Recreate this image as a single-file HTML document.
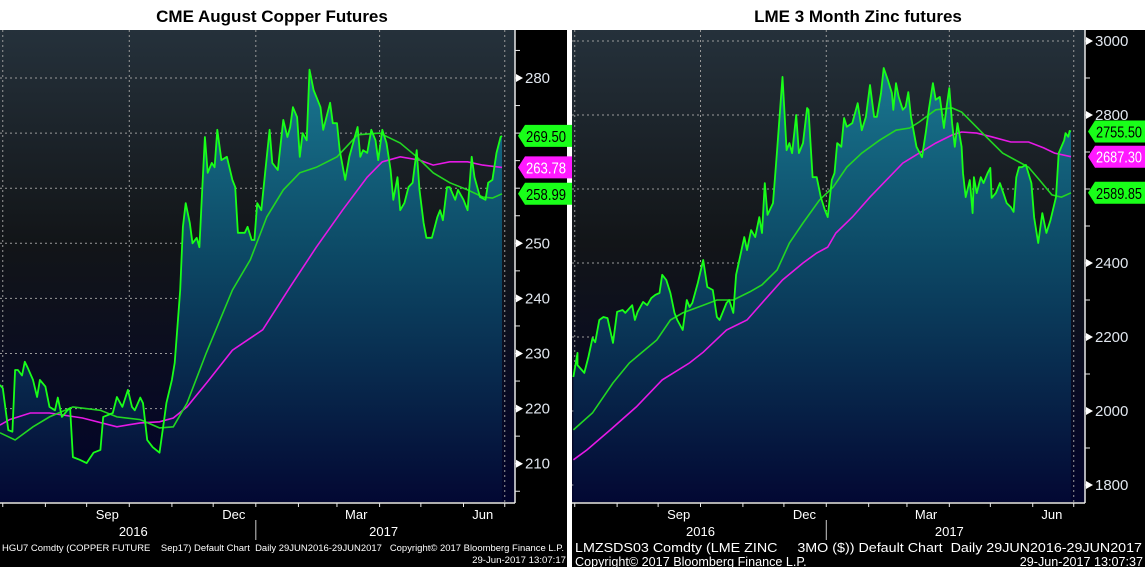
<!DOCTYPE html>
<html><head><meta charset="utf-8">
<style>
html,body{margin:0;padding:0;background:#000;width:1145px;height:567px;overflow:hidden}
svg{display:block}
text{font-family:"Liberation Sans",sans-serif}
</style></head>
<body>
<svg id="root" width="1145" height="567" viewBox="0 0 1145 567" xmlns="http://www.w3.org/2000/svg">
<defs>
<linearGradient id="bg" x1="0" y1="30" x2="0" y2="502" gradientUnits="userSpaceOnUse">
<stop offset="0" stop-color="#25313b"/><stop offset="0.45" stop-color="#121518"/><stop offset="1" stop-color="#01032a"/>
</linearGradient>
<linearGradient id="area" x1="0" y1="30" x2="0" y2="502" gradientUnits="userSpaceOnUse">
<stop offset="0" stop-color="#1c8099"/><stop offset="0.45" stop-color="#0d4c68"/><stop offset="1" stop-color="#030833"/>
</linearGradient>
</defs>
<rect x="0" y="0" width="1145" height="30" fill="#fff"/>
<rect x="567" y="0" width="5" height="567" fill="#fff"/>
<text x="272" y="22" text-anchor="middle" font-size="17" font-weight="bold" fill="#000">CME August Copper Futures</text>
<text x="858" y="22" text-anchor="middle" font-size="17" font-weight="bold" fill="#000">LME 3 Month Zinc futures</text>
<g id="left"></g>
<g id="right"></g>
<text x="2" y="551" font-size="9.6" fill="#fff" textLength="562" lengthAdjust="spacingAndGlyphs" xml:space="preserve">HGU7 Comdty (COPPER FUTURE    Sep17) Default Chart  Daily 29JUN2016-29JUN2017   Copyright© 2017 Bloomberg Finance L.P.</text>
<text x="566" y="563" text-anchor="end" font-size="9.6" fill="#fff">29-Jun-2017 13:07:17</text>
<text x="575" y="552" font-size="12.6" fill="#fff" textLength="567" lengthAdjust="spacingAndGlyphs" xml:space="preserve">LMZSDS03 Comdty (LME ZINC     3MO ($)) Default Chart  Daily 29JUN2016-29JUN2017</text>
<text x="575" y="566" font-size="12.6" fill="#fff">Copyright© 2017 Bloomberg Finance L.P.</text>
<text x="1143" y="566" text-anchor="end" font-size="12.6" fill="#fff">29-Jun-2017 13:07:37</text>
</svg>
<script>
// ---- Copper data (day offset from 29 Jun 2016) ----
const cuDays = [0,2,6,9,11,13,16,18,20,24,27,29,33,36,40,42,45,49,51,53,58,63,68,73,75,82,85,89,93,96,98,102,104,107,111,116,119,121,125,127,131,133,135,138,140,143,145,147,149,151,154,156,158,161,165,169,171,173,178,180,183,185,187,190,193,196,198,202,206,209,211,213,216,218,220,223,225,228,230,233,235,240,242,245,247,251,254,260,262,264,267,270,273,275,278,281,284,286,289,291,294,297,300,303,305,308,310,314,318,320,322,325,327,331,333,337,340,343,345,349,353,355,358,361,364,365];
const cuPrice = [224.3,223.7,216.1,215.8,227,227,226,228.5,227.5,225.2,222.1,225.2,224,220.3,219.7,222,218.5,219.7,220.1,211.2,210.7,210.1,212,212.5,218.5,219.2,222.1,220.3,223.4,220.3,219.7,222,221,214.3,213,212,217.4,221,225.2,228.3,241.5,253,257.3,253.7,250,251,249.3,259.7,269.3,262.8,264.6,263.8,270.6,265.1,265.7,261.5,260.2,251.9,251.9,253,250.6,250.6,257.3,256,263.3,270.6,264.6,263.3,272.4,269.3,271.1,274.7,272.9,265.7,270,268.7,281.5,277.8,276.6,274.7,270.6,275.5,271.8,271.8,266.9,261.5,265.7,271.1,265.7,266.9,266.4,270.6,268.7,265.1,270.6,268.2,263.3,257.9,262,256,257.3,260.2,261,266.9,259.7,253.7,251,251,254.8,256,254.2,260.2,260.2,257.9,259.7,257.9,256,265.7,262,258.4,257.9,261,261.5,266.4,269.3,269.5];
const cuMa50Days = [0,11,24,36,53,73,85,102,116,126,136,150,169,182,194,206,218,230,245,260,276,291,303,315,327,340,351,358,365];
const cuMa50 = [215.6,214.3,216.7,218.5,220.3,219.7,218.5,218,216.5,216.7,221,230.1,241.5,247,254.8,259.7,262.8,263.8,265.7,269.7,270,268.2,265.7,262.8,261,259.7,258.4,258.2,258.99];
const cuMa100Days = [0,7,22,36,60,85,102,116,126,136,150,169,191,211,230,249,267,278,291,305,315,327,340,351,365];
const cuMa100 = [217,218,219.2,219.2,218.3,216.7,217.4,217.6,218.3,220.3,224.6,230.6,234.3,242.1,249.3,256,262,264.8,265.7,265.1,264.2,264.8,264.8,264.2,263.78];
const cuTicks = [210,220,230,240,250,260,270,280];
const cuTickLabels = ["210","220","230","240","250","","","280"];
const cuTags = [269.50,263.78,258.99];
const cuTagLabels = ["269.50","263.78","258.99"];

// ---- Zinc data ----
const znDays = [1,4,4,9,12,15,17,20,23,26,30,33,37,39,44,46,48,52,55,58,61,64,66,69,72,75,77,81,84,86,88,92,96,99,103,106,108,113,115,118,120,124,126,128,131,134,137,139,141,143,147,150,154,157,159,161,164,166,169,172,173,176,179,182,185,187,190,192,194,197,199,201,205,209,212,215,218,221,223,226,228,231,234,235,237,239,242,244,246,248,252,256,259,261,264,266,269,272,274,276,278,280,282,285,286,288,291,293,294,296,299,301,304,306,307,310,313,316,318,321,323,325,327,329,332,336,338,341,344,347,350,354,356,360,361,363,364,365];
const znPrice = [2092,2157,2124,2103,2146,2197,2186,2246,2254,2251,2184,2268,2273,2265,2286,2246,2268,2295,2286,2305,2314,2319,2368,2354,2319,2265,2246,2219,2300,2281,2292,2346,2408,2335,2327,2254,2246,2292,2300,2265,2368,2435,2470,2435,2489,2470,2524,2481,2616,2530,2562,2705,2903,2705,2724,2697,2800,2697,2724,2819,2814,2632,2632,2578,2543,2524,2624,2643,2724,2714,2792,2768,2778,2832,2759,2795,2881,2795,2795,2859,2927,2895,2859,2814,2886,2849,2814,2822,2862,2795,2714,2686,2759,2814,2886,2841,2849,2765,2822,2873,2778,2714,2778,2714,2643,2578,2624,2535,2632,2589,2632,2616,2643,2657,2576,2589,2616,2584,2562,2551,2538,2632,2659,2659,2665,2616,2524,2454,2535,2481,2516,2578,2697,2732,2751,2741,2757,2755.5];
const znMa50Days = [1,15,30,42,62,72,81,96,106,118,130,139,150,159,169,181,191,201,212,225,237,247,254,266,278,285,293,303,315,327,334,342,351,358,365];
const znMa50 = [1949,1995,2076,2130,2192,2246,2265,2286,2300,2300,2322,2341,2381,2454,2508,2570,2605,2659,2697,2732,2759,2765,2781,2814,2819,2808,2778,2741,2697,2673,2659,2624,2584,2578,2589.85];
const znMa100Days = [1,11,28,47,66,86,96,113,128,139,154,169,179,187,193,205,218,230,242,254,266,278,285,296,307,321,334,345,353,365];
const znMa100 = [1868,1895,1949,2011,2084,2130,2159,2219,2246,2292,2354,2400,2427,2443,2481,2524,2578,2624,2670,2697,2724,2746,2754,2751,2741,2727,2727,2711,2697,2687.3];
const znTicks = [1800,2000,2200,2400,2600,2800,3000];
const znTickLabels = ["1800","2000","2200","2400","","2800","3000"];
const znTags = [2755.50,2687.30,2589.85];
const znTagLabels = ["2755.50","2687.30","2589.85"];

const monthStarts = [2,33,63,94,125,155,186,217,245,276,306,337,367];
const monthLabelDays = [78,170,259,351];
const monthLabels = ["Sep","Dec","Mar","Jun"];
const quarterDays = [2,94,186,276,367];
const yearLabels = ["2016","2017"];
const yearLabelDays = [94,276];
const yearSplitDay = 186;

const NS = "http://www.w3.org/2000/svg";
function mk(parent, tag, attrs){const e=document.createElementNS(NS,tag);for(const k in attrs)e.setAttribute(k,attrs[k]);parent.appendChild(e);return e;}

function drawChart(g, o){
  const x = d => o.x0 + d * (o.x1 - o.x0) / 365;
  const y = v => o.yA + (o.vA - v) * o.k;
  let el;
  el = mk(g,'rect',{x:o.px,y:30,width:o.axisX-o.px,height:472,fill:'url(#bg)'});
  
  
  o.ticks.forEach(t=>{
    el = mk(g,'line',{x1:o.px,x2:o.x1+1,y1:y(t),y2:y(t),stroke:'#9a9a9a','stroke-width':1,'stroke-dasharray':'2,3'});
    
    
  });
  quarterDays.forEach(d=>{
    el = mk(g,'line',{x1:x(d),x2:x(d),y1:30,y2:502,stroke:'#9a9a9a','stroke-width':1,'stroke-dasharray':'2,3'});
    
    
  });
  let pts = o.days.map((d,i)=>x(d).toFixed(1)+','+y(o.price[i]).toFixed(1));
  el = mk(g,'polygon',{points: x(o.days[0]).toFixed(1)+',502 '+pts.join(' ')+' '+x(o.days[o.days.length-1]).toFixed(1)+',502',fill:'url(#area)'});
  
  
  el = mk(g,'polyline',{points:o.ma100Days.map((d,i)=>x(d).toFixed(1)+','+y(o.ma100[i]).toFixed(1)).join(' '),fill:'none',stroke:'#e619e6','stroke-width':1.6});
  
  
  el = mk(g,'polyline',{points:o.ma50Days.map((d,i)=>x(d).toFixed(1)+','+y(o.ma50[i]).toFixed(1)).join(' '),fill:'none',stroke:'#22d622','stroke-width':1.6});
  
  
  el = mk(g,'polyline',{points:pts.join(' '),fill:'none',stroke:'#19ff19','stroke-width':1.8,'stroke-linejoin':'round'});
  
  
  el = mk(g,'line',{x1:o.axisX,x2:o.axisX,y1:30,y2:503,stroke:'#e8e8e8','stroke-width':1.5});
  
  
  const step = o.ticks[1]-o.ticks[0];
  for(let v=o.ticks[0]-step/2; y(v)>30; v+=step/2){
    if(y(v)>502) continue;
    el = mk(g,'line',{x1:o.axisX,x2:o.axisX+5,y1:y(v),y2:y(v),stroke:'#e8e8e8','stroke-width':1});
    
    
  }
  o.ticks.forEach((t,i)=>{
    if(!o.tickLabels[i]) return;
    el = mk(g,'polygon',{points:`${o.axisX+1},${y(t)-4} ${o.axisX+8},${y(t)} ${o.axisX+1},${y(t)+4}`,fill:'#fff'});
    
    
    el = mk(g,'text',{x:o.axisX+10,y:y(t)+5,'font-size':15,fill:'#e0e6ee'});
    el.textContent=o.tickLabels[i];
    
    
  });
  const tagColors=[['#19ff19','#000'],['#ff19ff','#fff'],['#19ff19','#000']];
  o.tags.forEach((v,i)=>{
    const yy=y(v), a=o.axisX+3;
    el = mk(g,'polygon',{points:`${a},${yy} ${a+7},${yy-11} ${a+70},${yy-11} ${a+70},${yy+11} ${a+7},${yy+11}`,fill:tagColors[i][0]});
    
    
    el = mk(g,'text',{x:a+8,y:yy+6,'font-size':16,fill:tagColors[i][1],textLength:o.tagTextW,lengthAdjust:'spacingAndGlyphs'});
    el.textContent=o.tagLabels[i];
    
    
  });
  el = mk(g,'line',{x1:o.px,x2:o.axisX,y1:503,y2:503,stroke:'#e8e8e8','stroke-width':1.5});
  
  
  monthStarts.forEach(d=>{
    if(x(d)>o.axisX) return;
    el = mk(g,'line',{x1:x(d),x2:x(d),y1:503,y2:507,stroke:'#e8e8e8','stroke-width':1});
    
    
  });
  monthLabelDays.forEach((d,i)=>{
    el = mk(g,'text',{x:x(d),y:519,'text-anchor':'middle','font-size':13,fill:'#fff'});
    el.textContent=monthLabels[i];
    
    
  });
  yearLabelDays.forEach((d,i)=>{
    el = mk(g,'text',{x:x(d)+o.yearShift,y:536,'text-anchor':'middle','font-size':13,fill:'#fff'});
    el.textContent=yearLabels[i];
    
    
  });
  el = mk(g,'line',{x1:x(yearSplitDay),x2:x(yearSplitDay),y1:520,y2:540,stroke:'#ccc','stroke-width':1});
  
  
}

drawChart(document.getElementById('left'),{px:0,x0:0,x1:502,axisX:515,yA:78,vA:280,k:5.51,
  days:cuDays,price:cuPrice,ma50Days:cuMa50Days,ma50:cuMa50,ma100Days:cuMa100Days,ma100:cuMa100,
  ticks:cuTicks,tickLabels:cuTickLabels,tags:cuTags,tagLabels:cuTagLabels,yearShift:4,tagTextW:40});
drawChart(document.getElementById('right'),{px:572,x0:572,x1:1071,axisX:1085,yA:41,vA:3000,k:0.37,
  days:znDays,price:znPrice,ma50Days:znMa50Days,ma50:znMa50,ma100Days:znMa100Days,ma100:znMa100,
  ticks:znTicks,tickLabels:znTickLabels,tags:znTags,tagLabels:znTagLabels,yearShift:0,tagTextW:46});
</script>
</body></html>
